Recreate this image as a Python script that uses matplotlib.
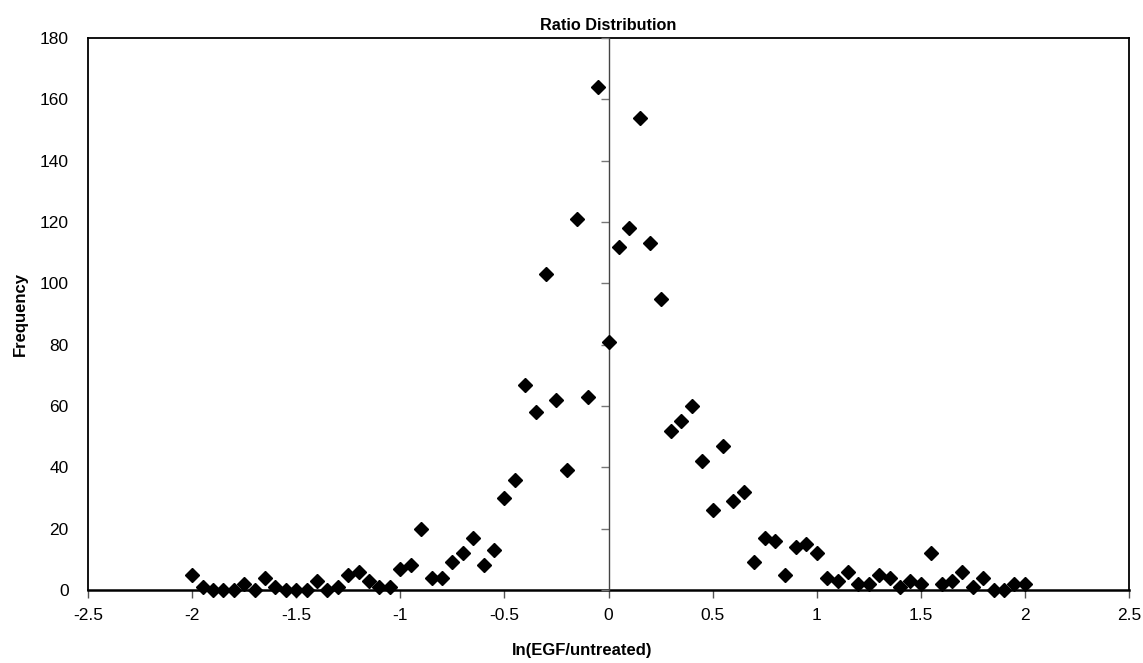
import matplotlib
matplotlib.use("Agg")
import matplotlib.pyplot as plt
import numpy as np

plt.rcParams['font.family'] = ['Liberation Sans', 'DejaVu Sans']

# ---- data ----
x_values = [-2.0, -1.95, -1.9, -1.85, -1.8, -1.75, -1.7, -1.65, -1.6, -1.55,
            -1.5, -1.45, -1.4, -1.35, -1.3, -1.25, -1.2, -1.15, -1.1, -1.05,
            -1.0, -0.95, -0.9, -0.85, -0.8, -0.75, -0.7, -0.65, -0.6, -0.55,
            -0.5, -0.45, -0.4, -0.35, -0.3, -0.25, -0.2, -0.15, -0.1, -0.05,
            0.0, 0.05, 0.1, 0.15, 0.2, 0.25, 0.3, 0.35, 0.4, 0.45,
            0.5, 0.55, 0.6, 0.65, 0.7, 0.75, 0.8, 0.85, 0.9, 0.95,
            1.0, 1.05, 1.1, 1.15, 1.2, 1.25, 1.3, 1.35, 1.4, 1.45,
            1.5, 1.55, 1.6, 1.65, 1.7, 1.75, 1.8, 1.85, 1.9, 1.95, 2.0]
frequency = [5, 1, 0, 0, 0, 2, 0, 4, 1, 0,
             0, 0, 3, 0, 1, 5, 6, 3, 1, 1,
             7, 8, 20, 4, 4, 9, 12, 17, 8, 13,
             30, 36, 67, 58, 103, 62, 39, 121, 63, 164,
             81, 112, 118, 154, 113, 95, 52, 55, 60, 42,
             26, 47, 29, 32, 9, 17, 16, 5, 14, 15,
             12, 4, 3, 6, 2, 2, 5, 4, 1, 3,
             2, 12, 2, 3, 6, 1, 4, 0, 0, 2, 2]
x_ticks = [-2.5, -2, -1.5, -1, -0.5, 0, 0.5, 1, 1.5, 2, 2.5]
x_tick_labels = ['-2.5', '-2', '-1.5', '-1', '-0.5', '0', '0.5', '1', '1.5', '2', '2.5']
y_ticks = [0, 20, 40, 60, 80, 100, 120, 140, 160, 180]

title = 'Ratio Distribution'
x_label = 'ln(EGF/untreated)'
y_label = 'Frequency'

W, H = 1143, 663
fig = plt.figure(figsize=(W / 100, H / 100), dpi=100)
rect = [88 / W, (H - 590) / H, (1129 - 88) / W, (590 - 38) / H]
ax = fig.add_axes(rect)

ax.set_xlim(-2.5, 2.5)
ax.set_ylim(0, 180)

for s in ax.spines.values():
    s.set_linewidth(1.3)
    s.set_color('black')
ax.spines['bottom'].set_linewidth(1.8)

ax.set_xticks(x_ticks)
ax.set_xticklabels(x_tick_labels)
ax.set_yticks(y_ticks)
ax.tick_params(axis='x', direction='out', length=6, width=1.0, color='#555555',
               labelsize=12.5, pad=7)
ax.tick_params(axis='y', length=0, labelsize=12.5, pad=14)

# secondary axes acting as the y axis crossing at x = 0
ax2 = fig.add_axes(rect, sharex=ax, sharey=ax)
ax2.patch.set_visible(False)
for k in ['top', 'right', 'bottom']:
    ax2.spines[k].set_visible(False)
ax2.spines['left'].set_position(('data', 0))
ax2.spines['left'].set_linewidth(1.0)
ax2.spines['left'].set_color('#444444')
ax2.tick_params(axis='y', direction='out', length=6, width=1.0, color='#777777',
                labelleft=False)
ax2.tick_params(axis='x', length=0, labelbottom=False)

ax2.plot(x_values, frequency, linestyle='none', marker='D', markersize=7,
         color='black', clip_on=False, zorder=5)

ax.set_title(title, fontsize=11.7, fontweight='bold', pad=6)
ax.set_xlabel(x_label, fontsize=12, fontweight='bold')
ax.xaxis.set_label_coords((582 - 88) / (1129 - 88), -(650 - 590) / (590 - 38))
ax.set_ylabel(y_label, fontsize=12, fontweight='bold')
ax.yaxis.set_label_coords(-(88 - 20) / (1129 - 88), 0.5)
ax.xaxis.label.set_va('center')
ax.yaxis.label.set_va('center')

fig.savefig('out.png', dpi=100)
